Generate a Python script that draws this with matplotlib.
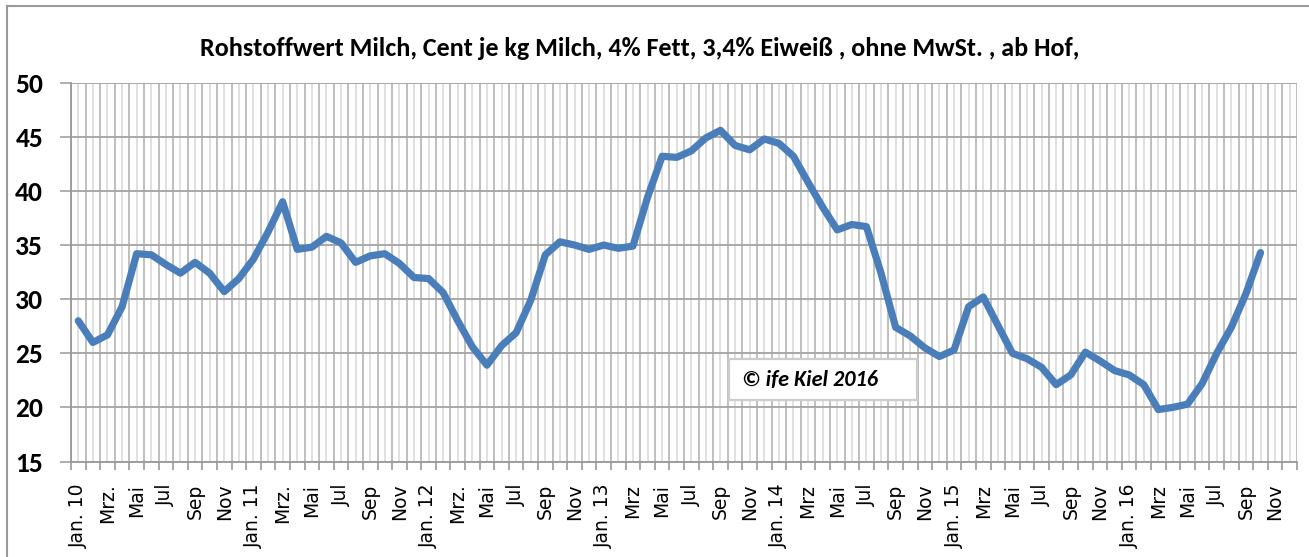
import matplotlib
matplotlib.use("Agg")
import matplotlib.pyplot as plt
from matplotlib.patches import Rectangle
from matplotlib.lines import Line2D
from matplotlib import font_manager as fm

# ---- data (Jan 2010 .. Oct 2016), Cent je kg Milch ----
values = [28.0, 26.0, 26.7, 29.3, 34.2, 34.1, 33.2, 32.4, 33.4, 32.4, 30.7, 31.9,
          33.7, 36.2, 39.0, 34.6, 34.8, 35.8, 35.2, 33.4, 34.0, 34.2, 33.3, 32.0,
          31.9, 30.6, 28.0, 25.6, 23.9, 25.7, 26.9, 29.9, 34.1, 35.3, 35.0, 34.6,
          35.0, 34.7, 34.9, 39.4, 43.2, 43.1, 43.7, 44.9, 45.6, 44.2, 43.8, 44.8,
          44.4, 43.2, 40.8, 38.5, 36.4, 36.9, 36.7, 32.4, 27.4, 26.6, 25.5, 24.7,
          25.3, 29.3, 30.2, 27.6, 25.0, 24.5, 23.7, 22.1, 23.0, 25.1, 24.3, 23.4,
          23.0, 22.1, 19.8, 20.0, 20.3, 22.2, 25.0, 27.4, 30.5, 34.3]
n_categories = 84  # Jan 2010 .. Dec 2016
tick_labels = ["Jan. 10", "Mrz.", "Mai", "Jul", "Sep", "Nov",
               "Jan. 11", "Mrz.", "Mai", "Jul", "Sep", "Nov",
               "Jan. 12", "Mrz.", "Mai", "Jul", "Sep", "Nov",
               "Jan. 13", "Mrz", "Mai", "Jul", "Sep", "Nov",
               "Jan. 14", "Mrz", "Mai", "Jul", "Sep", "Nov",
               "Jan. 15", "Mrz", "Mai", "Jul", "Sep", "Nov",
               "Jan. 16", "Mrz", "Mai", "Jul", "Sep", "Nov"]
y_ticks = [15, 20, 25, 30, 35, 40, 45, 50]
title = "Rohstoffwert Milch, Cent je kg Milch, 4% Fett, 3,4% Eiweiß , ohne MwSt. , ab Hof,"
note = "© ife Kiel 2016"


def pick_bold(cands):
    for c in cands:
        try:
            p = fm.findfont(fm.FontProperties(family=c, weight="bold"),
                            fallback_to_default=False)
        except Exception:
            continue
        if "bold" in p.lower() or "Bold" in p:
            return c
    return "DejaVu Sans"


BF = pick_bold(["Carlito", "Liberation Sans Narrow", "Lato", "Open Sans",
                "Roboto", "Liberation Sans", "Noto Sans", "DejaVu Sans"])
BOLD_FAMILY = [BF, "DejaVu Sans"]

W, H = 1309, 557
fig = plt.figure(figsize=(W / 100, H / 100), dpi=100)
fig.patch.set_facecolor("white")

left, right, top, bottom = 71, 1297, 82.7, 461.5
ax = fig.add_axes([left / W, 1 - bottom / H, (right - left) / W, (bottom - top) / H])

x = list(range(len(values)))
ax.set_xlim(-0.5, n_categories - 0.5)
ax.set_ylim(15, 50)

# gridlines
for b in range(n_categories + 1):
    ax.axvline(b - 0.5, color="#b4b4b4", lw=1.2, zorder=1)
for c in range(n_categories):
    ax.axvline(c, color="#dadada", lw=1.2, zorder=1)
for yv in y_ticks:
    ax.axhline(yv, color="#a8a8a8", lw=1.4, zorder=1)

ax.plot(x, values, color="#4A7EBB", lw=5.2, solid_joinstyle="round",
        solid_capstyle="round", zorder=3)

for s in ["top", "right"]:
    ax.spines[s].set_visible(False)
for s in ["left", "bottom"]:
    ax.spines[s].set_color("#999999")
    ax.spines[s].set_linewidth(1.3)

# y axis
ax.set_yticks(y_ticks)
ax.set_yticklabels([str(v) for v in y_ticks], fontfamily=BOLD_FAMILY,
                   fontweight="bold", fontsize=16)
ax.tick_params(axis="y", length=8, width=1.3, color="#a8a8a8", pad=12)

# x axis: ticks at category boundaries, labels every 2nd category
ax.set_xticks([b - 0.5 for b in range(n_categories + 1)])
ax.set_xticklabels([])
ax.set_xticks(list(range(0, n_categories, 2)), minor=True)
ax.set_xticklabels(tick_labels, minor=True, rotation=90, fontfamily="DejaVu Sans",
                   fontsize=13.5, va="top", ha="center")
ax.tick_params(axis="x", which="major", length=6, width=1.2, color="#999999")
ax.tick_params(axis="x", which="minor", length=0, pad=16)

# title
t = fig.text(640 / W, 1 - 48 / H, title, ha="center", va="center",
             fontfamily=BOLD_FAMILY, fontweight="bold", fontsize=14)

# copyright box
bx0, bx1, by0, by1 = 729, 917, 359, 400
ax.add_patch(Rectangle(((bx0 - left) / (right - left), (bottom - by1) / (bottom - top)),
                       (bx1 - bx0) / (right - left), (by1 - by0) / (bottom - top),
                       transform=ax.transAxes, facecolor="white", edgecolor="#cccccc",
                       lw=1.6, zorder=4))
nt = ax.text((742 - left) / (right - left), (bottom - 380) / (bottom - top), note,
             transform=ax.transAxes, ha="left", va="center", fontfamily=BOLD_FAMILY,
             fontweight="bold", fontstyle="italic", fontsize=13, zorder=5)

# fit text widths to the reference
fig.canvas.draw()
r = fig.canvas.get_renderer()
tw = t.get_window_extent(r).width
t.set_fontsize(14 * 885 / tw)
nw = nt.get_window_extent(r).width
nt.set_fontsize(13 * 136 / nw)
yl = ax.get_yticklabels()[-1]
yw = yl.get_window_extent(r).width
ys = 16 * 28 / yw
for lab in ax.get_yticklabels():
    lab.set_fontsize(ys)

# outer chart frame
fig.add_artist(Line2D([7 / W, 7 / W], [0, 1 - 6 / H], transform=fig.transFigure,
                      color="#9a9a9a", lw=1.5))
fig.add_artist(Line2D([7 / W, 1], [1 - 6 / H, 1 - 6 / H], transform=fig.transFigure,
                      color="#9a9a9a", lw=1.5))

fig.savefig("out.png", dpi=100)
